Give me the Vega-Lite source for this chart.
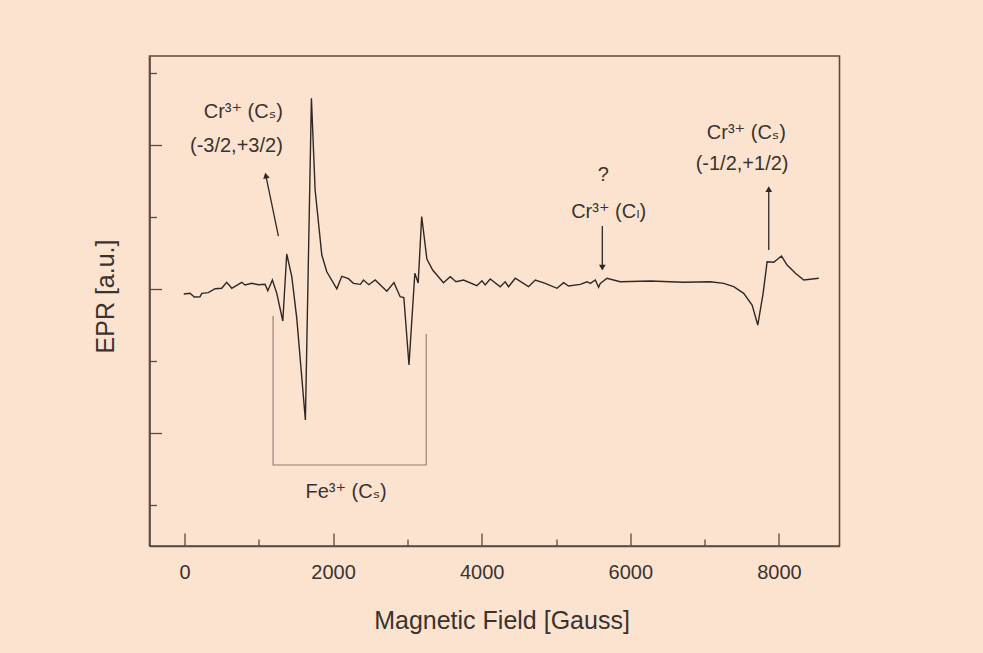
{
  "$schema": "https://vega.github.io/schema/vega-lite/v6.json",
  "width": 690,
  "height": 490,
  "autosize": {"type": "none"},
  "padding": {"left": 149.5, "top": 56, "right": 143.5, "bottom": 107},
  "background": "#fce3cf",
  "config": {
    "view": {"stroke": "#5a4b42", "strokeWidth": 1.6},
    "font": "Liberation Sans, DejaVu Sans"
  },
  "datasets": {
    "spectrum": [
      {"field": -10, "epr": -0.07}, {"field": 74, "epr": -0.06}, {"field": 132, "epr": -0.11}, {"field": 209, "epr": -0.107},
      {"field": 232, "epr": -0.06}, {"field": 321, "epr": -0.05}, {"field": 411, "epr": 0.004}, {"field": 501, "epr": 0.01},
      {"field": 568, "epr": 0.093}, {"field": 636, "epr": 0.01}, {"field": 770, "epr": 0.093}, {"field": 815, "epr": 0.056},
      {"field": 905, "epr": 0.079}, {"field": 994, "epr": 0.06}, {"field": 1084, "epr": 0.065}, {"field": 1121, "epr": -0.024},
      {"field": 1183, "epr": 0.125}, {"field": 1242, "epr": -0.06}, {"field": 1323, "epr": -0.444}, {"field": 1376, "epr": 0.486},
      {"field": 1444, "epr": 0.171}, {"field": 1511, "epr": -0.407}, {"field": 1627, "epr": -1.819}, {"field": 1708, "epr": 2.649},
      {"field": 1758, "epr": 1.375}, {"field": 1848, "epr": 0.472}, {"field": 1915, "epr": 0.24}, {"field": 2050, "epr": 0.003},
      {"field": 2117, "epr": 0.176}, {"field": 2206, "epr": 0.144}, {"field": 2273, "epr": 0.079}, {"field": 2368, "epr": 0.065},
      {"field": 2408, "epr": 0.125}, {"field": 2481, "epr": 0.06}, {"field": 2566, "epr": 0.125}, {"field": 2723, "epr": -0.032},
      {"field": 2819, "epr": 0.088}, {"field": 2902, "epr": -0.107}, {"field": 2952, "epr": -0.118}, {"field": 3021, "epr": -1.056},
      {"field": 3100, "epr": 0.218}, {"field": 3145, "epr": 0.083}, {"field": 3192, "epr": 1.007}, {"field": 3262, "epr": 0.417},
      {"field": 3340, "epr": 0.264}, {"field": 3485, "epr": 0.088}, {"field": 3576, "epr": 0.171}, {"field": 3654, "epr": 0.101},
      {"field": 3755, "epr": 0.125}, {"field": 3935, "epr": 0.046}, {"field": 4003, "epr": 0.115}, {"field": 4047, "epr": 0.056},
      {"field": 4114, "epr": 0.139}, {"field": 4249, "epr": 0.032}, {"field": 4316, "epr": 0.101}, {"field": 4361, "epr": 0.032},
      {"field": 4451, "epr": 0.149}, {"field": 4630, "epr": 0.032}, {"field": 4721, "epr": 0.125}, {"field": 4855, "epr": 0.079},
      {"field": 5013, "epr": 0.01}, {"field": 5102, "epr": 0.088}, {"field": 5169, "epr": 0.042}, {"field": 5327, "epr": 0.065},
      {"field": 5417, "epr": 0.101}, {"field": 5461, "epr": 0.079}, {"field": 5529, "epr": 0.125}, {"field": 5573, "epr": 0.024},
      {"field": 5596, "epr": 0.079}, {"field": 5686, "epr": 0.149}, {"field": 5865, "epr": 0.101}, {"field": 6269, "epr": 0.111},
      {"field": 6718, "epr": 0.093}, {"field": 7077, "epr": 0.101}, {"field": 7257, "epr": 0.079}, {"field": 7391, "epr": 0.032},
      {"field": 7526, "epr": -0.06}, {"field": 7639, "epr": -0.222}, {"field": 7715, "epr": -0.5}, {"field": 7787, "epr": -0.06},
      {"field": 7841, "epr": 0.379}, {"field": 7930, "epr": 0.371}, {"field": 8034, "epr": 0.458}, {"field": 8110, "epr": 0.333},
      {"field": 8222, "epr": 0.218}, {"field": 8334, "epr": 0.125}, {"field": 8536, "epr": 0.149}
    ],
    "bracket": [
      {"order": 1, "field": 1192, "epr": -0.375},
      {"order": 2, "field": 1192, "epr": -2.444},
      {"order": 3, "field": 3253, "epr": -2.444},
      {"order": 4, "field": 3253, "epr": -0.625}
    ],
    "arrows": [
      {"name": "left", "field": 1264, "epr": 0.736, "field2": 1095, "epr2": 1.576},
      {"name": "mid", "field": 5623, "epr": 0.875, "field2": 5623, "epr2": 0.296},
      {"name": "right", "field": 7863, "epr": 0.542, "field2": 7863, "epr2": 1.388}
    ],
    "labelsRight": [
      {"text": "Cr³⁺ (Cₛ)", "field": 1323, "epr": 2.463},
      {"text": "(-3/2,+3/2)", "field": 1323, "epr": 1.986}
    ],
    "labelsCenter": [
      {"text": "Fe³⁺ (Cₛ)", "field": 2175, "epr": -2.82},
      {"text": "?", "field": 5637, "epr": 1.583},
      {"text": "Cr³⁺ (Cₗ)", "field": 5708, "epr": 1.074},
      {"text": "Cr³⁺ (Cₛ)", "field": 7562, "epr": 2.167},
      {"text": "(-1/2,+1/2)", "field": 7504, "epr": 1.736}
    ]
  },
  "layer": [
    {
      "data": {"name": "spectrum"},
      "mark": {"type": "line", "color": "#2f2825", "strokeWidth": 1.4, "strokeJoin": "miter"},
      "encoding": {
        "x": {
          "field": "field", "type": "quantitative",
          "scale": {"domain": [-471, 8815], "nice": false, "zero": false},
          "axis": {
            "values": [0, 1000, 2000, 3000, 4000, 5000, 6000, 7000, 8000],
            "format": "d",
            "labelExpr": "datum.value % 2000 === 0 ? datum.label : ''",
            "grid": false,
            "domainColor": "#5a4b42", "domainWidth": 1.6,
            "tickColor": "#5a4b42", "tickWidth": 1.3,
            "tickSize": {"condition": {"test": "datum.value % 2000 === 0", "value": -13}, "value": -7},
            "labelFontSize": 20, "labelColor": "#3a3330", "labelBaseline": "middle",
            "labelPadding": 39, "labelFlush": false, "labelOverlap": false,
            "title": "Magnetic Field [Gauss]",
            "titleFontSize": 25, "titleFontWeight": "normal", "titleColor": "#3a3330",
            "titleX": 352, "titleY": 74, "titleBaseline": "middle", "titleAlign": "center"
          }
        },
        "y": {
          "field": "epr", "type": "quantitative",
          "scale": {"domain": [-3.569, 3.236], "nice": false, "zero": false},
          "axis": {
            "values": [-3, -2, -1, 0, 1, 2, 3],
            "labels": false,
            "grid": false,
            "domainColor": "#5a4b42", "domainWidth": 1.6,
            "tickColor": "#5a4b42", "tickWidth": 1.3,
            "tickSize": {"condition": {"test": "datum.value % 2 === 0", "value": -12}, "value": -7},
            "title": "EPR [a.u.]",
            "titleFontSize": 25, "titleFontWeight": "normal", "titleColor": "#3a3330",
            "titleX": -44.5, "titleY": 240, "titleAngle": 270, "titleBaseline": "middle", "titleAlign": "center"
          }
        }
      }
    },
    {
      "data": {"name": "bracket"},
      "mark": {"type": "line", "color": "#8a7b72", "strokeWidth": 1.1},
      "encoding": {
        "x": {"field": "field", "type": "quantitative"},
        "y": {"field": "epr", "type": "quantitative"},
        "order": {"field": "order", "type": "quantitative"}
      }
    },
    {
      "data": {"name": "arrows"},
      "mark": {"type": "rule", "color": "#2f2825", "strokeWidth": 1.3},
      "encoding": {
        "x": {"field": "field", "type": "quantitative"},
        "y": {"field": "epr", "type": "quantitative"},
        "x2": {"field": "field2"},
        "y2": {"field": "epr2"}
      }
    },
    {
      "data": {"name": "arrows"},
      "transform": [{"filter": "datum.name === 'left'"}],
      "mark": {"type": "point", "shape": "triangle-up", "angle": -12, "filled": true, "size": 45, "color": "#2f2825", "opacity": 1},
      "encoding": {
        "x": {"field": "field2", "type": "quantitative"},
        "y": {"field": "epr2", "type": "quantitative"}
      }
    },
    {
      "data": {"name": "arrows"},
      "transform": [{"filter": "datum.name === 'mid'"}],
      "mark": {"type": "point", "shape": "triangle-down", "filled": true, "size": 45, "color": "#2f2825", "opacity": 1},
      "encoding": {
        "x": {"field": "field2", "type": "quantitative"},
        "y": {"field": "epr2", "type": "quantitative"}
      }
    },
    {
      "data": {"name": "arrows"},
      "transform": [{"filter": "datum.name === 'right'"}],
      "mark": {"type": "point", "shape": "triangle-up", "filled": true, "size": 45, "color": "#2f2825", "opacity": 1},
      "encoding": {
        "x": {"field": "field2", "type": "quantitative"},
        "y": {"field": "epr2", "type": "quantitative"}
      }
    },
    {
      "data": {"name": "labelsRight"},
      "mark": {"type": "text", "align": "right", "baseline": "middle", "fontSize": 20, "color": "#3a3330"},
      "encoding": {
        "x": {"field": "field", "type": "quantitative"},
        "y": {"field": "epr", "type": "quantitative"},
        "text": {"field": "text"}
      }
    },
    {
      "data": {"name": "labelsCenter"},
      "mark": {"type": "text", "align": "center", "baseline": "middle", "fontSize": 20, "color": "#3a3330"},
      "encoding": {
        "x": {"field": "field", "type": "quantitative"},
        "y": {"field": "epr", "type": "quantitative"},
        "text": {"field": "text"}
      }
    }
  ]
}
